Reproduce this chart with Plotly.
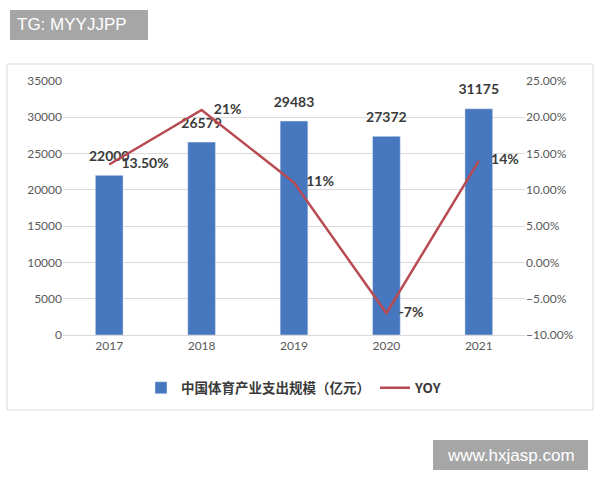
import plotly.graph_objects as go

years = ["2017", "2018", "2019", "2020", "2021"]
spend = [22000, 26579, 29483, 27372, 31175]
yoy = [13.5, 21, 11, -7, 14]
yoy_labels = ["13.50%", "21%", "11%", "-7%", "14%"]
bar_name = "中国体育产业支出规模（亿元）"
line_name = "YOY"

BAR_C = "#4677bf"
LINE_C = "#b84a52"
TXT = "#3a3a3a"
TICK = "#595959"
FONT = "Lato, Noto Sans CJK SC, sans-serif"

fig = go.Figure()
fig.add_trace(go.Bar(
    x=years, y=spend, name="<b>" + bar_name + "</b>", marker_color=BAR_C,
))
# bar value labels
fig.add_trace(go.Scatter(
    x=years, y=spend, mode="markers+text", showlegend=False,
    marker=dict(size=16, color="rgba(0,0,0,0)"),
    text=[str(v) for v in spend], textposition="top center",
    texttemplate="<b>%{text}</b>",
    textfont=dict(size=14, color=TXT, family=FONT),
    cliponaxis=False, hoverinfo="skip",
))
fig.add_trace(go.Scatter(
    x=years, y=yoy, name="<b>" + line_name + "</b>", yaxis="y2",
    mode="lines+markers+text",
    line=dict(color=LINE_C, width=2.5),
    marker=dict(size=18, color="rgba(0,0,0,0)"),
    text=yoy_labels, textposition="middle right",
    texttemplate="<b>%{text}</b>",
    textfont=dict(size=14, color=TXT, family=FONT), cliponaxis=False,
))

L, R, T, B = 63, 75, 81, 145
pw, ph = 600 - L - R, 480 - T - B

def px(x):
    return (x - L) / pw

def py(y):
    return (480 - B - y) / ph

fig.update_layout(
    width=600, height=480, autosize=False,
    margin=dict(l=L, r=R, t=T, b=B),
    paper_bgcolor="white", plot_bgcolor="white",
    bargap=0.7,
    font=dict(family=FONT, color=TICK, size=12),
    xaxis=dict(showgrid=False, showline=True, linecolor="#d9d9d9",
               tickfont=dict(size=12, color=TICK), ticks=""),
    yaxis=dict(range=[0, 35000], dtick=5000, gridcolor="#d9d9d9",
               showline=False, zeroline=False, tickformat="d",
               tickfont=dict(size=12, color=TICK)),
    yaxis2=dict(range=[-10, 25], dtick=5, overlaying="y", side="right",
                showgrid=False, zeroline=False, tickformat=".2f",
                ticksuffix="%", tickfont=dict(size=12, color=TICK)),
    legend=dict(orientation="h", x=0.5, xanchor="center", y=py(388),
                yanchor="middle", font=dict(size=13.5, color=TXT,
                family="Noto Sans CJK SC, sans-serif"),
                bgcolor="rgba(0,0,0,0)"),
    showlegend=True,
)

fig.add_shape(type="rect", xref="paper", yref="paper",
              x0=px(7), x1=px(593), y0=py(410), y1=py(64),
              line=dict(color="#d9d9d9", width=1), layer="below")

# watermark boxes
fig.add_shape(type="rect", xref="paper", yref="paper",
              x0=px(10), x1=px(148), y0=py(40), y1=py(10),
              fillcolor="#a6a6a6", line=dict(width=0))
fig.add_shape(type="rect", xref="paper", yref="paper",
              x0=px(433), x1=px(588), y0=py(470), y1=py(440),
              fillcolor="#a6a6a6", line=dict(width=0))
fig.add_annotation(xref="paper", yref="paper", x=px(15), y=py(25),
                   xanchor="left", yanchor="middle", showarrow=False,
                   text="TG: MYYJJPP",
                   font=dict(color="white", size=17,
                             family="Liberation Sans, Arial"))
fig.add_annotation(xref="paper", yref="paper", x=px(510.5), y=py(455),
                   xanchor="center", yanchor="middle", showarrow=False,
                   text="www.hxjasp.com",
                   font=dict(color="white", size=17,
                             family="Liberation Sans, Arial"))

fig.write_html("out.html", config={"displayModeBar": False},
               post_script="document.body.style.margin='0px';")
